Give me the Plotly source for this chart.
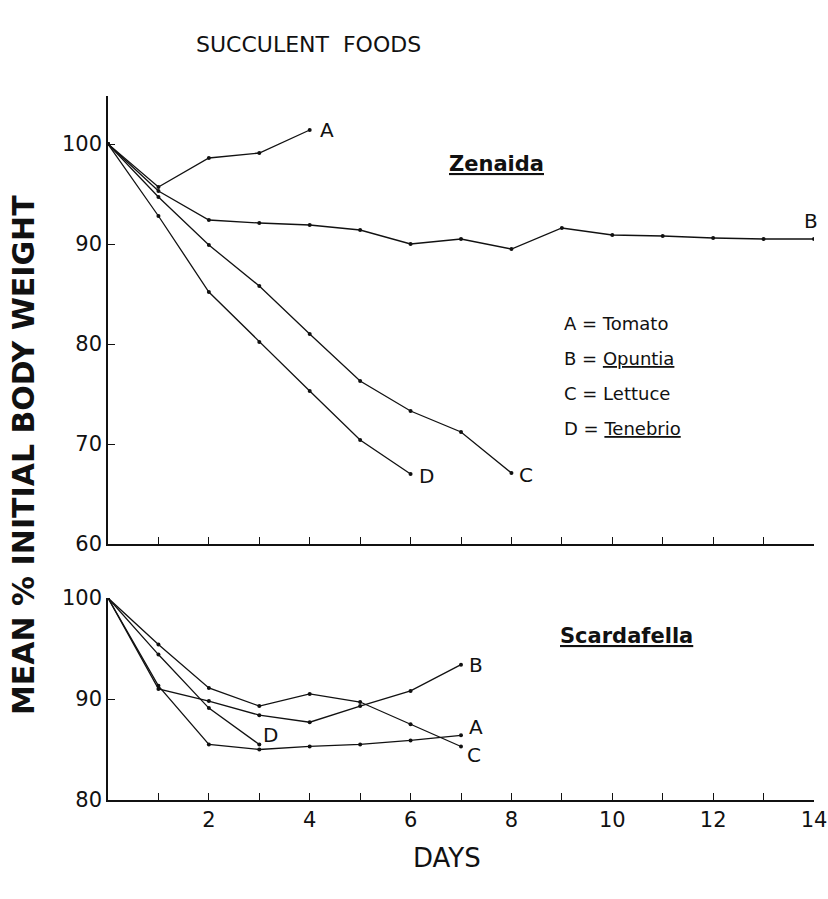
import plotly.graph_objects as go

# ---------------- data ----------------
days_top_A = [0, 1, 2, 3, 4]
zen_A = [100, 95.7, 98.6, 99.1, 101.4]          # Tomato
days_top_B = list(range(0, 15))
zen_B = [100, 95.3, 92.4, 92.1, 91.9, 91.4, 90.0, 90.5, 89.5, 91.6, 90.9, 90.8, 90.6, 90.5, 90.5]  # Opuntia
days_top_C = list(range(0, 9))
zen_C = [100, 94.7, 89.9, 85.8, 81.0, 76.3, 73.3, 71.2, 67.1]   # Lettuce
days_top_D = list(range(0, 7))
zen_D = [100, 92.8, 85.2, 80.2, 75.3, 70.4, 67.0]               # Tenebrio

days_bot = list(range(0, 8))
sca_A = [100, 91.3, 85.5, 85.0, 85.3, 85.5, 85.9, 86.4]
sca_B = [100, 91.0, 89.8, 88.4, 87.7, 89.3, 90.8, 93.4]
sca_C = [100, 95.4, 91.1, 89.3, 90.5, 89.7, 87.5, 85.3]
days_bot_D = [0, 1, 2, 3]
sca_D = [100, 94.4, 89.1, 85.5]

top_yticks = [60, 70, 80, 90, 100]
bot_yticks = [80, 90, 100]
x_ticks = list(range(1, 15))
x_ticktext = [str(d) if d % 2 == 0 else "" for d in x_ticks]

legend_lines = ["A = Tomato", "B = <u>Opuntia</u>", "C = Lettuce", "D = <u>Tenebrio</u>"]

FONT = "DejaVu Sans"
BLACK = "#111111"

fig = go.Figure()

def add_series(x, y, xa, ya):
    fig.add_trace(go.Scatter(
        x=x, y=y, xaxis=xa, yaxis=ya, mode="lines+markers",
        line=dict(color=BLACK, width=1.3),
        marker=dict(color=BLACK, size=4),
        showlegend=False, hoverinfo="skip"))

for x, y in [(days_top_A, zen_A), (days_top_B, zen_B), (days_top_C, zen_C), (days_top_D, zen_D)]:
    add_series(x, y, "x", "y")
for x, y in [(days_bot, sca_A), (days_bot, sca_B), (days_bot, sca_C), (days_bot_D, sca_D)]:
    add_series(x, y, "x2", "y2")

ann = []
def lab(text, x, y, xref, yref, xs=0, ys=0, size=20, xanchor="left"):
    ann.append(dict(text=text, x=x, y=y, xref=xref, yref=yref, xshift=xs, yshift=ys,
                    showarrow=False, xanchor=xanchor, yanchor="middle",
                    font=dict(family=FONT, size=size, color=BLACK)))

def pann(text, px, py, size, xanchor="center", angle=0):
    ann.append(dict(text=text, x=(px - 108) / 706, y=(800 - py) / 704,
                    xref="paper", yref="paper", showarrow=False, textangle=angle,
                    xanchor=xanchor, yanchor="middle",
                    font=dict(family=FONT, size=size, color=BLACK)))

# end labels, top panel
lab("A", days_top_A[-1], zen_A[-1], "x", "y", xs=8, ys=0)
lab("B", days_top_B[-1], zen_B[-1], "x", "y", xs=6, ys=18, xanchor="right")
lab("C", days_top_C[-1], zen_C[-1], "x", "y", xs=6, ys=-2)
lab("D", days_top_D[-1], zen_D[-1], "x", "y", xs=6, ys=-2)
# end labels, bottom panel
lab("B", days_bot[-1], sca_B[-1], "x2", "y2", xs=6, ys=0)
lab("A", days_bot[-1], sca_A[-1], "x2", "y2", xs=6, ys=8)
lab("C", days_bot[-1], sca_C[-1], "x2", "y2", xs=4, ys=-9)
lab("D", days_bot_D[-1], sca_D[-1], "x2", "y2", xs=2, ys=9)

# panel names
pann("<b><u>Zenaida</u></b>", 496, 164, 21)
pann("<b><u>Scardafella</u></b>", 626, 636, 21)
# legend text
for i, t in enumerate(legend_lines):
    pann(t, 562, 323 + 35 * i, 18, xanchor="left")
# titles
pann("SUCCULENT  FOODS", 308, 45, 22)
pann("<b>MEAN % INITIAL BODY WEIGHT</b>", 23, 455, 30, angle=-90)
pann("DAYS", 447, 858, 26)

axis_common = dict(showline=True, linecolor=BLACK, linewidth=1.5, ticks="inside",
                   tickcolor=BLACK, ticklen=7, tickwidth=1.3, showgrid=False, zeroline=False,
                   automargin=False,
                   tickfont=dict(family=FONT, size=21, color=BLACK))

top_lo = (800 - 544) / 704
bot_hi = (800 - 598) / 704

fig.update_layout(
    width=828, height=899, autosize=False,
    margin=dict(l=108, r=14, t=96, b=99),
    paper_bgcolor="white", plot_bgcolor="white",
    annotations=ann,
    xaxis=dict(domain=[0, 1], range=[0, 14], anchor="y", tickvals=x_ticks,
               showticklabels=False, **axis_common),
    yaxis=dict(domain=[top_lo, 1], range=[60, 104.8], anchor="x", tickvals=top_yticks,
               **axis_common),
    xaxis2=dict(domain=[0, 1], range=[0, 14], anchor="y2", tickvals=x_ticks,
                ticktext=x_ticktext, **axis_common),
    yaxis2=dict(domain=[0, bot_hi], range=[80, 100], anchor="x2", tickvals=bot_yticks,
                **axis_common),
)

fig.write_html("out.html", config={"responsive": False, "displayModeBar": False},
               post_script="document.body.style.margin='0px';document.body.style.overflow='hidden';")
